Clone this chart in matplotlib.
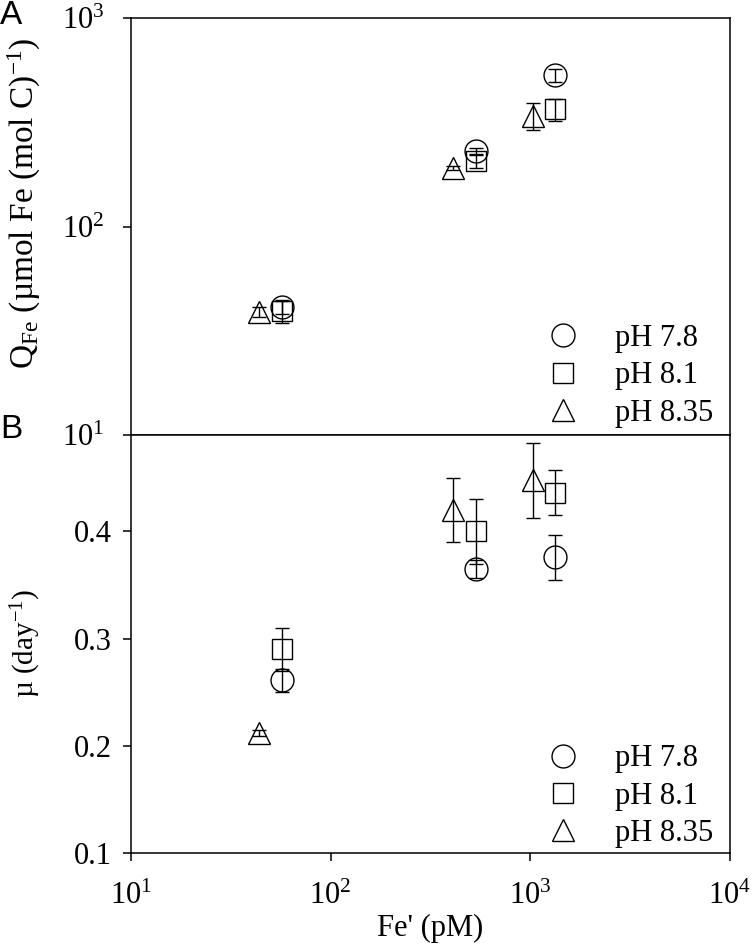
import matplotlib
matplotlib.use("Agg")
import matplotlib.pyplot as plt
from matplotlib.ticker import FixedLocator, FixedFormatter

plt.rcParams['font.family'] = ['Liberation Serif', 'DejaVu Serif']
plt.rcParams['mathtext.fontset'] = 'custom'
plt.rcParams['mathtext.rm'] = 'Liberation Serif'
plt.rcParams['mathtext.it'] = 'Liberation Serif:italic'
plt.rcParams['mathtext.default'] = 'rm'

# Fe' (pM) for each treatment
fe_78 = [57, 535, 1328]
fe_81 = [57, 535, 1328]
fe_835 = [43.7, 409, 1030]

# Panel A: Q_Fe (umol Fe (mol C)^-1)
q_78 = [41.1, 230, 533]
q_78_err = [3, 8, 38]
q_81 = [39.4, 206, 366]
q_81_err = [5, 15, 45]
q_835 = [38.9, 191, 340]
q_835_err = [2, 5, 50]

# Panel B: growth rate mu (day^-1)
mu_78 = [0.261, 0.365, 0.376]
mu_78_err = [0.011, 0.008, 0.021]
mu_81 = [0.290, 0.40, 0.436]
mu_81_err = [0.02, 0.03, 0.021]
mu_835 = [0.212, 0.42, 0.448]
mu_835_err = [0.003, 0.03, 0.035]

labels = ["pH 7.8", "pH 8.1", "pH 8.35"]
markers = ["o", "s", "^"]
msizes = [16.5, 14.5, 16]
FS = 22

fig = plt.figure(figsize=(7.52, 9.49), dpi=100)
axA = fig.add_axes([0.1742, 0.5416, 0.7965, 0.4394])
axB = fig.add_axes([0.1742, 0.1012, 0.7965, 0.4404], sharex=axA)

def draw(ax, ys, errs):
    handles = []
    for fe, y, e, m, ms, lab in zip([fe_78, fe_81, fe_835], ys, errs, markers, msizes, labels):
        ax.errorbar(fe, y, yerr=e, fmt='none', ecolor='black', elinewidth=1.0,
                    capsize=4.7, capthick=1.0, zorder=2)
        h, = ax.plot(fe, y, linestyle='none', marker=m, markersize=ms,
                     markerfacecolor='none', markeredgecolor='black',
                     markeredgewidth=1.0, label=lab, zorder=3)
        handles.append(h)
    return handles

hA = draw(axA, [q_78, q_81, q_835], [q_78_err, q_81_err, q_835_err])
hB = draw(axB, [mu_78, mu_81, mu_835], [mu_78_err, mu_81_err, mu_835_err])

for ax in (axA, axB):
    for s in ax.spines.values():
        s.set_linewidth(1.1)
    ax.tick_params(axis='both', which='both', direction='out', length=6, width=1.1,
                   labelsize=FS, top=False, right=False)
    ax.tick_params(which='minor', length=0)

axA.set_xscale('log')
axA.set_xlim(10, 1e4)
axA.set_yscale('log')
axA.set_ylim(10, 1000)
axA.yaxis.set_major_locator(FixedLocator([10, 100, 1000]))
axA.yaxis.set_major_formatter(FixedFormatter([r'$10^{1}$', r'$10^{2}$', r'$10^{3}$']))
axA.yaxis.set_minor_locator(FixedLocator([]))
axA.tick_params(axis='y', pad=13)
axA.tick_params(axis='x', which='both', bottom=False, labelbottom=False)
axA.set_ylabel(r'Q$_{\mathrm{Fe}}$ (µmol Fe (mol C)$^{-1}$)', fontsize=24)
axA.yaxis.set_label_coords(-0.147, 0.556)

axB.set_ylim(0.1, 0.49)
axB.yaxis.set_major_locator(FixedLocator([0.1, 0.2, 0.3, 0.4]))
axB.yaxis.set_major_formatter(FixedFormatter(['0.1', '0.2', '0.3', '0.4']))
axB.xaxis.set_major_locator(FixedLocator([10, 100, 1000, 10000]))
axB.xaxis.set_major_formatter(FixedFormatter([r'$10^{1}$', r'$10^{2}$', r'$10^{3}$', r'$10^{4}$']))
axB.xaxis.set_minor_locator(FixedLocator([]))
axB.tick_params(axis='x', pad=15)
axB.tick_params(axis='y', pad=8)
axB.set_ylabel(r'µ (day$^{-1}$)', fontsize=21)
axB.yaxis.set_label_coords(-0.147, 0.5)
axB.set_xlabel("Fe' (pM)", fontsize=FS, labelpad=2)

for ax, hs, yb in ((axA, hA, 0.018), (axB, hB, 0.012)):
    ax.legend(handles=hs, loc='lower right', frameon=False, fontsize=FS,
              handletextpad=1.1, labelspacing=0.27, borderaxespad=0, borderpad=0,
              bbox_to_anchor=(0.972, yb), handlelength=1.2)

fig.text(0.0, 0.984, 'A', fontsize=24, family='Liberation Sans', va='center', ha='left')
fig.text(0.0, 0.547, 'B', fontsize=24, family='Liberation Sans', va='center', ha='left')

fig.savefig('out.png', dpi=100)
